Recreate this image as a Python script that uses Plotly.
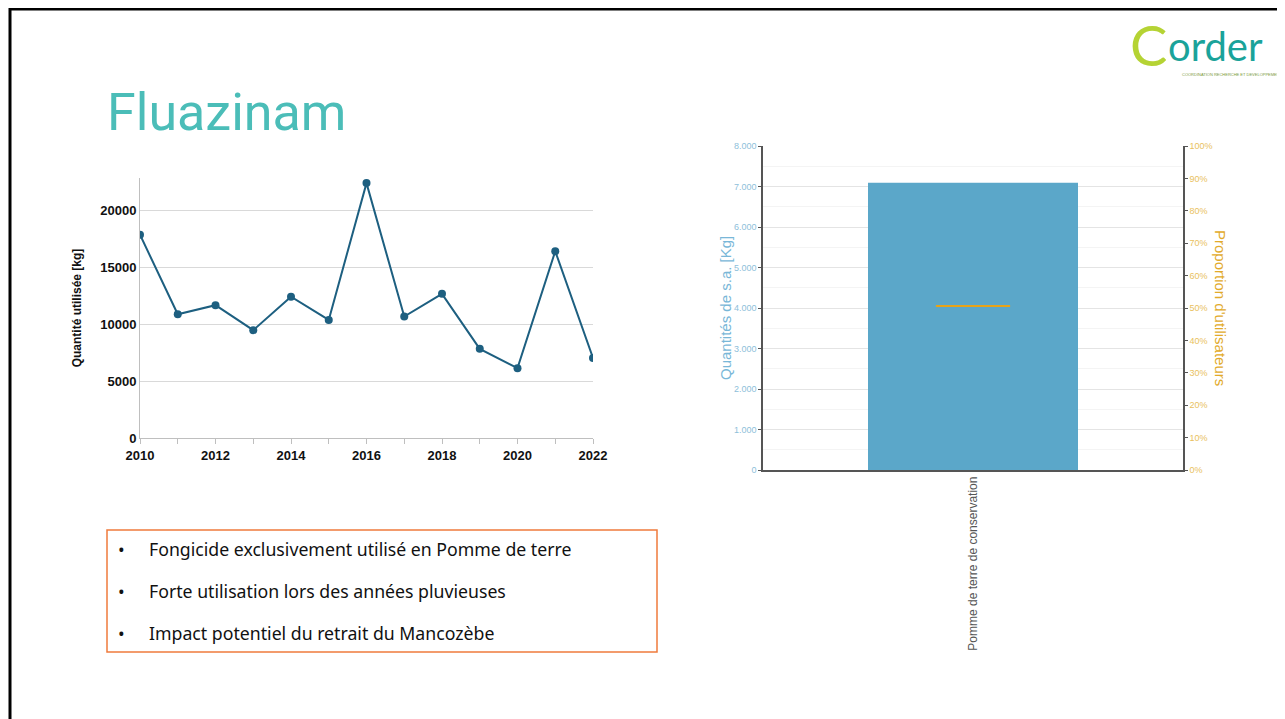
import plotly.graph_objects as go

W, H = 1285, 719
OFF = 8  # page body margin shifts the figure by 8px

# left chart: yearly quantity of fluazinam
years = list(range(2010, 2023))
quantite_kg = [17900, 10900, 11700, 9500, 12450, 10400, 22450, 10700, 12700, 7850, 6150, 16450, 7050]

# right chart: quantity per crop and share of users
cultures = ["Pomme de terre de conservation"]
quantite_sa = [7090]
proportion_utilisateurs = [0.506]

bullets = [
    "Fongicide exclusivement utilisé en Pomme de terre",
    "Forte utilisation lors des années pluvieuses",
    "Impact potentiel du retrait du Mancozèbe",
]


def fx(px_):
    return (px_ - OFF) / W


def fy(py_):
    return 1 - (py_ - OFF) / H


fig = go.Figure()

fig.add_trace(go.Scatter(
    x=years, y=quantite_kg, mode="lines+markers",
    line=dict(color="#1d5f80", width=2),
    marker=dict(color="#1d5f80", size=8),
    xaxis="x", yaxis="y", showlegend=False,
))

fig.add_trace(go.Bar(
    x=cultures, y=quantite_sa, width=0.5,
    marker=dict(color="#5ba7c9", line_width=0),
    xaxis="x2", yaxis="y2", showlegend=False,
))

fig.add_trace(go.Scatter(
    x=cultures, y=proportion_utilisateurs, mode="markers",
    marker=dict(symbol="line-ew", size=53, line=dict(color="#e8a317", width=2)),
    xaxis="x2", yaxis="y3", showlegend=False,
))

left_font = dict(family="Liberation Sans, Arial, sans-serif", size=13, color="#111111", weight="bold")

fig.update_layout(
    width=W, height=H,
    margin=dict(l=0, r=0, t=0, b=0, autoexpand=False),
    paper_bgcolor="white", plot_bgcolor="rgba(0,0,0,0)",
    separators=",.",
    showlegend=False,
    font=dict(family="Liberation Sans, Arial, sans-serif"),
    xaxis=dict(
        domain=[fx(140), fx(593)], range=[2010, 2022], anchor="y", automargin=False,
        tickmode="array", tickvals=years,
        ticktext=[str(y) if y % 2 == 0 else "" for y in years],
        ticks="outside", ticklen=5, tickcolor="#bfbfbf",
        showline=True, linecolor="#bfbfbf", linewidth=1,
        showgrid=False, zeroline=False,
        tickfont=left_font,
    ),
    yaxis=dict(
        domain=[fy(438), fy(178)], range=[0, 22900], anchor="x", automargin=False,
        dtick=5000, tickformat="d",
        showline=True, linecolor="#bfbfbf", linewidth=1,
        gridcolor="#d9d9d9", gridwidth=1, zeroline=False,
        ticks="", tickfont=left_font,
        title=dict(text="Quantité utilisée [kg]", font=dict(left_font, size=12), standoff=16),
    ),
    xaxis2=dict(
        domain=[fx(763), fx(1183)], anchor="y2", automargin=False,
        showline=True, linecolor="#555555", linewidth=1.5,
        ticks="", showgrid=False, zeroline=False,
        tickangle=-90, tickfont=dict(size=12, color="#555555"),
    ),
    yaxis2=dict(
        domain=[fy(470), fy(146)], range=[0, 8000], anchor="x2", automargin=False,
        dtick=1000, tickformat=",d",
        showline=True, linecolor="#555555", linewidth=1.5,
        ticks="outside", ticklen=3, tickcolor="#555555",
        gridcolor="#e4e4e4", gridwidth=1, zeroline=False,
        minor=dict(dtick=500, showgrid=True, gridcolor="#f4f4f4", ticks=""),
        tickfont=dict(size=9, color="#8ec0da"),
    ),
    yaxis3=dict(
        overlaying="y2", side="right", anchor="x2", range=[0, 1], automargin=False,
        dtick=0.1, tickformat=".0%",
        showline=True, linecolor="#555555", linewidth=1.5,
        ticks="outside", ticklen=3, tickcolor="#555555",
        showgrid=False, zeroline=False,
        tickfont=dict(size=9, color="#e9bf5e"),
    ),
)

annotations = [
    dict(text="Fluazinam", x=fx(105), y=fy(113), xanchor="left", yanchor="middle",
         font=dict(family="Roboto, sans-serif", size=52, color="#4bbdb8")),
    dict(text="Quantités de s.a. [Kg]", x=fx(725), y=fy(308), textangle=-90,
         xanchor="center", yanchor="middle",
         font=dict(size=15, color="#79b7d8")),
    dict(text="Proportion d'utilisateurs", x=fx(1221), y=fy(308), textangle=90,
         xanchor="center", yanchor="middle",
         font=dict(size=15, color="#e2aa2a")),
    dict(text="C", x=fx(1128), y=fy(44), xanchor="left", yanchor="middle",
         font=dict(family="Lato, sans-serif", size=56, color="#b5d334")),
    dict(text="order", x=fx(1166), y=fy(46), xanchor="left", yanchor="middle",
         font=dict(family="Lato, sans-serif", size=40, color="#1aa39a")),
    dict(text="COORDINATION RECHERCHE ET DEVELOPPEMENT", x=fx(1180), y=fy(75),
         xanchor="left", yanchor="middle",
         font=dict(size=4, color="#7a9a3a")),
]
for i, b in enumerate(bullets):
    y = fy(549 + 42 * i)
    annotations.append(dict(text="•", x=fx(116), y=y, xanchor="left", yanchor="middle",
                            font=dict(family="Noto Sans, sans-serif", size=17.7, color="#111111")))
    annotations.append(dict(text=b, x=fx(147), y=y, xanchor="left", yanchor="middle",
                            font=dict(family="Noto Sans, sans-serif", size=17.7, color="#111111")))
for a in annotations:
    a.update(xref="paper", yref="paper", showarrow=False)
fig.update_layout(annotations=annotations)

fig.update_layout(shapes=[
    dict(type="line", xref="paper", yref="paper", x0=fx(9), x1=1, y0=fy(9), y1=fy(9),
         line=dict(color="black", width=3)),
    dict(type="line", xref="paper", yref="paper", x0=fx(10), x1=fx(10), y0=fy(8), y1=0,
         line=dict(color="black", width=3)),
    dict(type="rect", xref="paper", yref="paper", x0=fx(107), x1=fx(657), y0=fy(652), y1=fy(530),
         line=dict(color="#f07b3c", width=1.5)),
])

fig.write_html("out.html")
